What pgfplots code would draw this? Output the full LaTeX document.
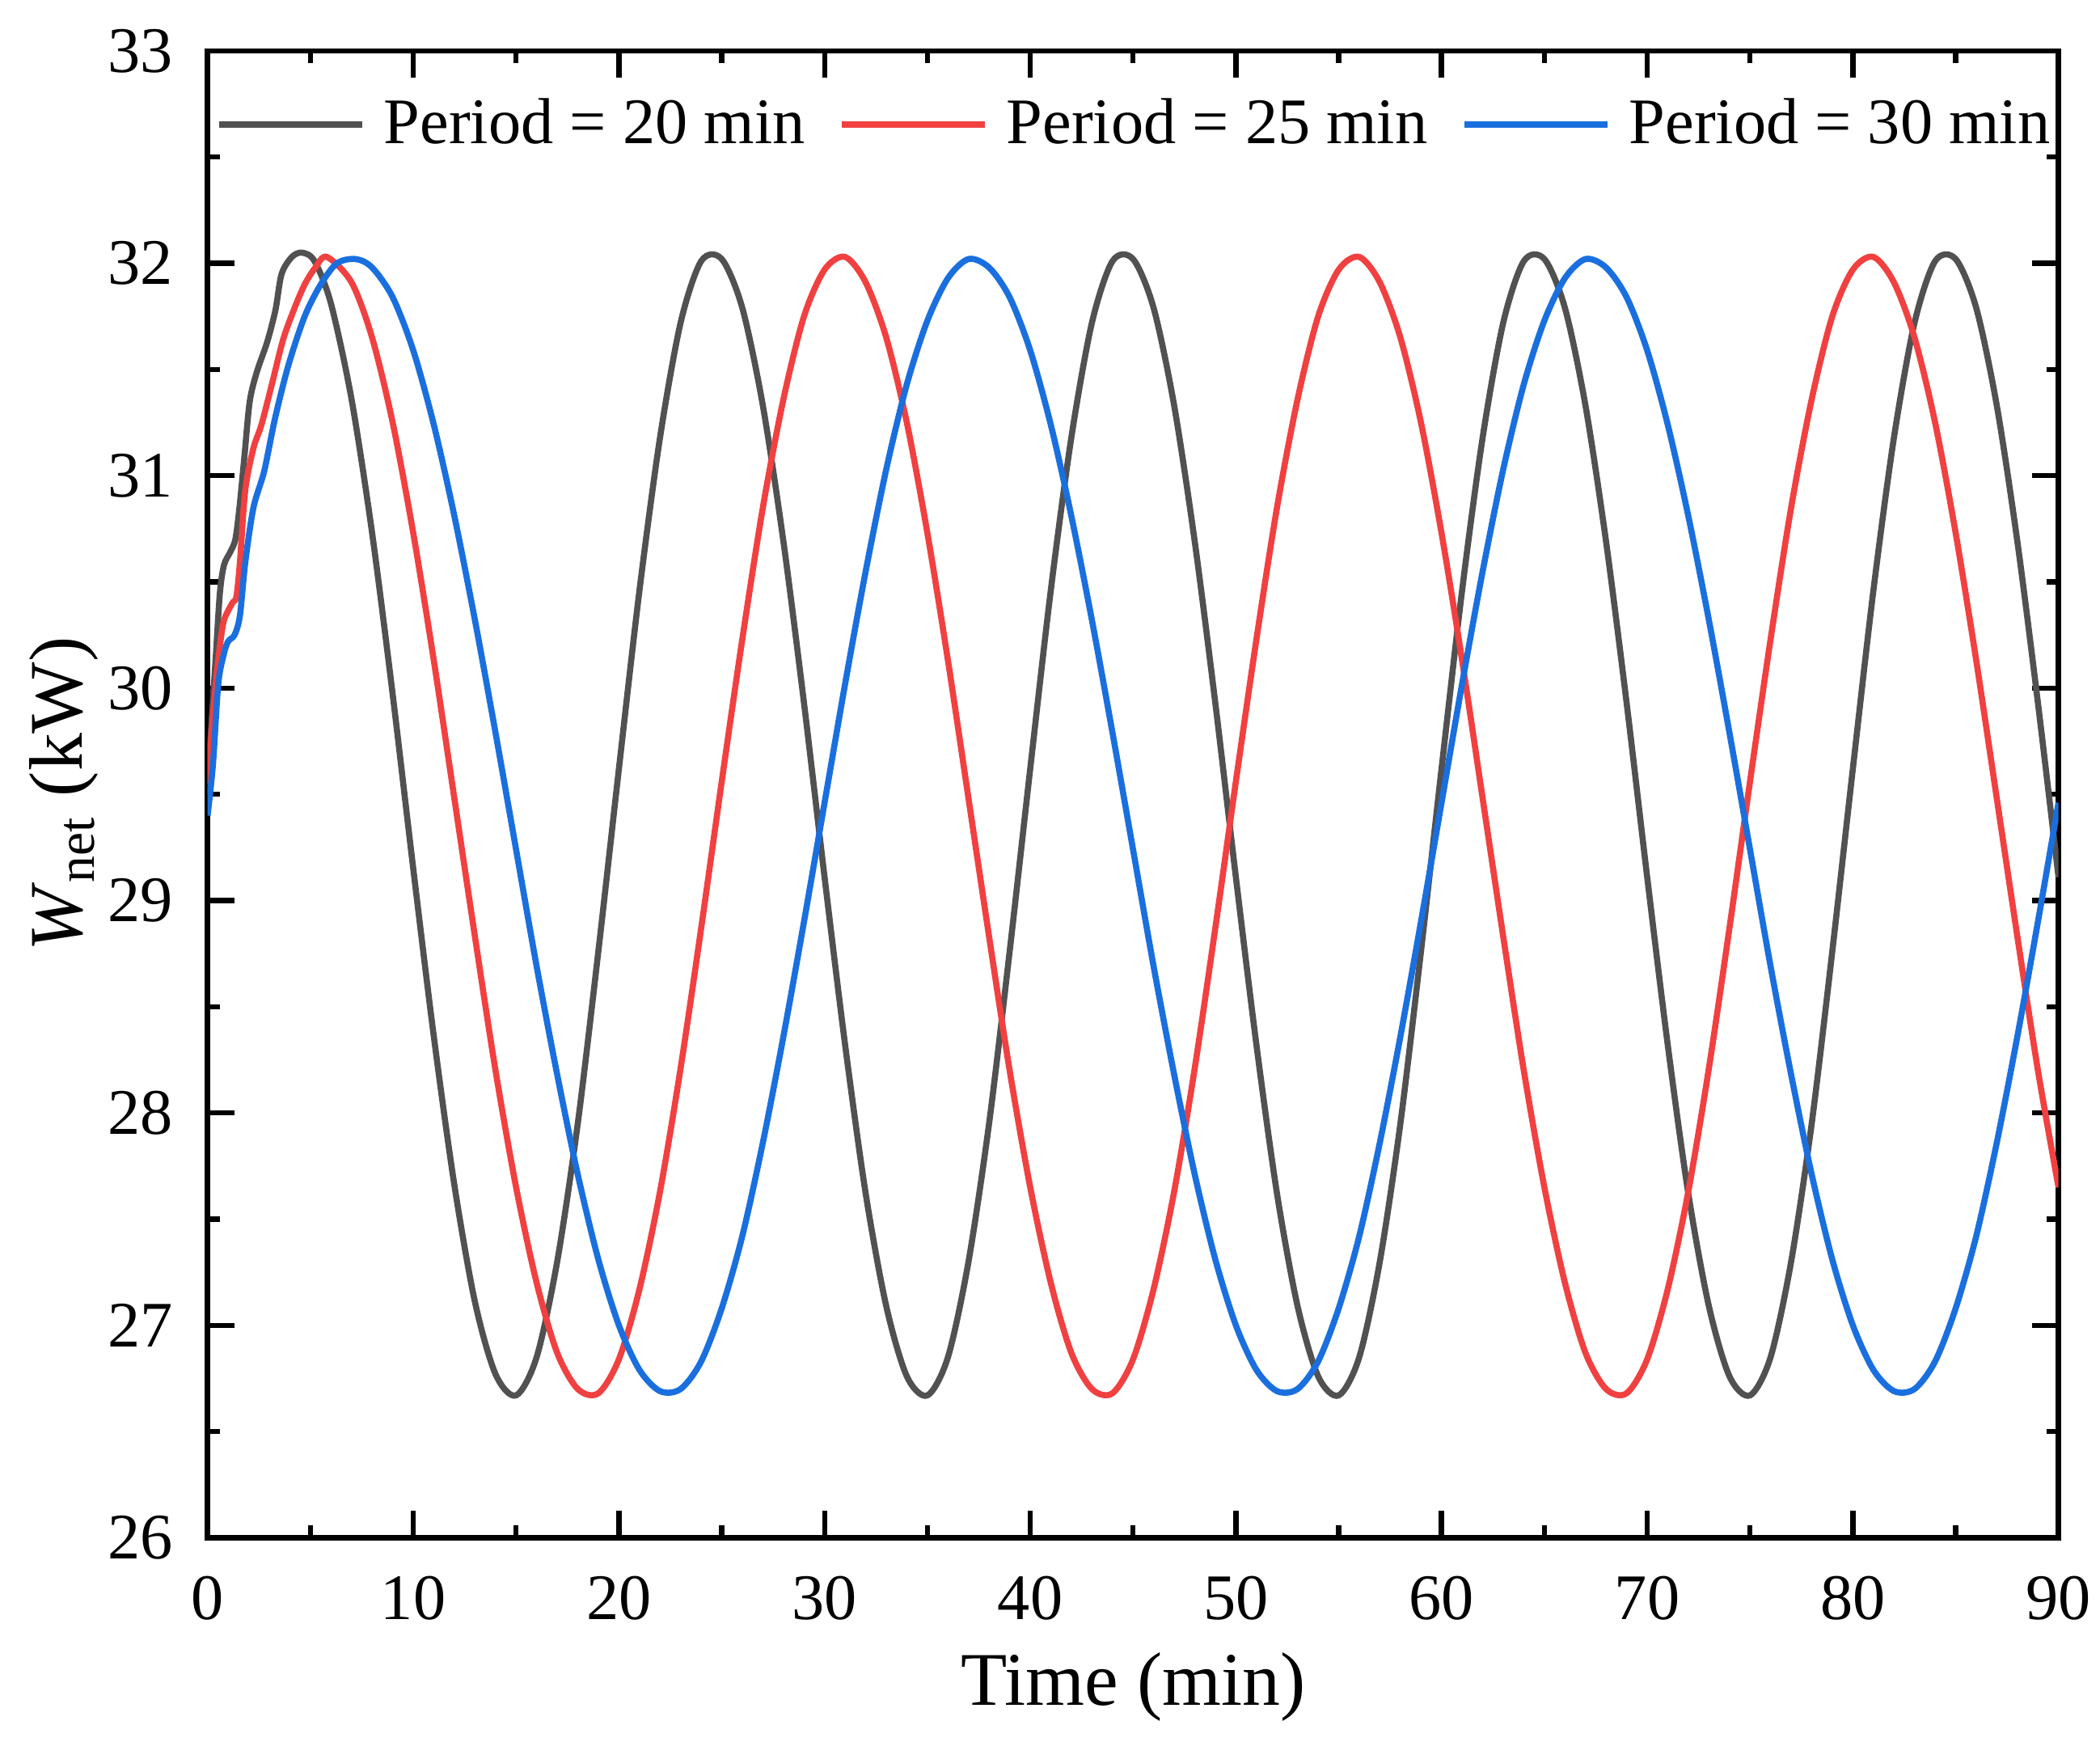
\documentclass[border=0pt]{standalone}
\usepackage{fontspec}
\setmainfont{Liberation Serif}
\usepackage{pgfplots}
\usepackage{pgfplotstable}
\pgfplotsset{compat=1.18}

\definecolor{oblack}{HTML}{515151}
\definecolor{ored}{HTML}{F14040}
\definecolor{oblue}{HTML}{1A6FDF}

% Period = 20 min
\pgfplotstableread{
t w
0 29.50
0.2 29.85
0.4 30.15
0.6 30.45
0.8 30.58
1.1 30.64
1.35 30.70
1.55 30.85
1.8 31.10
2.05 31.35
2.4 31.49
2.9 31.63
3.3 31.78
3.6 31.95
4.1 32.03
4.6 32.05
5.2 32.01
6 31.81
7 31.36
8 30.73
9 29.97
10 29.15
11 28.36
12 27.66
13 27.11
14 26.77
15 26.67
16 26.85
17 27.30
18 27.95
19 28.76
20 29.62
21 30.46
22 31.18
23 31.72
24 32.01
25 32.02
26 31.79
27 31.33
28 30.69
29 29.93
30 29.11
31 28.32
32 27.62
33 27.09
34 26.76
35 26.67
36 26.85
37 27.30
38 27.95
39 28.76
40 29.62
41 30.46
42 31.18
43 31.72
44 32.01
45 32.02
46 31.79
47 31.33
48 30.69
49 29.93
50 29.11
51 28.32
52 27.62
53 27.09
54 26.76
55 26.67
56 26.85
57 27.30
58 27.95
59 28.76
60 29.62
61 30.46
62 31.18
63 31.72
64 32.01
65 32.02
66 31.79
67 31.33
68 30.69
69 29.93
70 29.11
71 28.32
72 27.62
73 27.09
74 26.76
75 26.67
76 26.85
77 27.30
78 27.95
79 28.76
80 29.62
81 30.46
82 31.18
83 31.72
84 32.01
85 32.02
86 31.79
87 31.33
88 30.69
89 29.93
90 29.11
}\perA

% Period = 25 min
\pgfplotstableread{
t w
0 29.55
0.2 29.80
0.4 30.02
0.6 30.20
0.8 30.32
1.2 30.40
1.4 30.43
1.57 30.59
1.83 30.93
2.23 31.13
2.62 31.24
3.15 31.44
3.67 31.64
4.19 31.78
4.72 31.90
5.24 31.98
5.8 32.03
7 31.91
8 31.65
9 31.25
10 30.73
11 30.13
12 29.48
13 28.83
14 28.20
15 27.65
16 27.20
17 26.87
18 26.70
19 26.68
20 26.84
21 27.17
22 27.63
23 28.21
24 28.87
25 29.56
26 30.23
27 30.85
28 31.36
29 31.75
30 31.97
31 32.03
32 31.91
33 31.65
34 31.25
35 30.73
36 30.13
37 29.48
38 28.83
39 28.20
40 27.65
41 27.20
42 26.87
43 26.70
44 26.68
45 26.84
46 27.17
47 27.63
48 28.21
49 28.87
50 29.56
51 30.23
52 30.85
53 31.36
54 31.75
55 31.97
56 32.03
57 31.91
58 31.65
59 31.25
60 30.73
61 30.13
62 29.48
63 28.83
64 28.20
65 27.65
66 27.20
67 26.87
68 26.70
69 26.68
70 26.84
71 27.17
72 27.63
73 28.21
74 28.87
75 29.56
76 30.23
77 30.85
78 31.36
79 31.75
80 31.97
81 32.03
82 31.91
83 31.65
84 31.25
85 30.73
86 30.13
87 29.48
88 28.83
89 28.20
90 27.65
}\perB

% Period = 30 min
\pgfplotstableread{
t w
0 29.40
0.26 29.64
0.52 30.02
0.79 30.16
1.0 30.22
1.31 30.25
1.57 30.34
1.83 30.59
2.23 30.85
2.75 31.02
3.28 31.27
3.93 31.52
4.72 31.75
5.5 31.90
6.29 32.00
7.2 32.02
8 31.98
9 31.84
10 31.59
11 31.24
12 30.81
13 30.32
14 29.79
15 29.24
16 28.69
17 28.18
18 27.71
19 27.31
20 27.00
21 26.79
22 26.69
23 26.70
24 26.83
25 27.08
26 27.42
27 27.86
28 28.36
29 28.90
30 29.46
31 30.02
32 30.55
33 31.03
34 31.43
35 31.73
36 31.93
37 32.02
38 31.98
39 31.84
40 31.59
41 31.24
42 30.81
43 30.32
44 29.79
45 29.24
46 28.69
47 28.18
48 27.71
49 27.31
50 27.00
51 26.79
52 26.69
53 26.70
54 26.83
55 27.08
56 27.42
57 27.86
58 28.36
59 28.90
60 29.46
61 30.02
62 30.55
63 31.03
64 31.43
65 31.73
66 31.93
67 32.02
68 31.98
69 31.84
70 31.59
71 31.24
72 30.81
73 30.32
74 29.79
75 29.24
76 28.69
77 28.18
78 27.71
79 27.31
80 27.00
81 26.79
82 26.69
83 26.70
84 26.83
85 27.08
86 27.42
87 27.86
88 28.36
89 28.90
90 29.46
}\perC

\begin{document}
\begin{tikzpicture}
\begin{axis}[
    scale only axis,
    width=138.2mm, height=111mm,
    xmin=0, xmax=90, ymin=26, ymax=33,
    xtick={0,10,...,90}, ytick={26,27,...,33},
    minor x tick num=1, minor y tick num=1,
    tick align=inside,
    major tick length=2mm, minor tick length=0.9mm,
    axis line style={line width=1.15pt},
    tick style={black, line width=1.1pt},
    /pgf/number format/assume math mode=true,
    ticklabel style={font=\fontsize{13.8}{16}\selectfont},
    yticklabel style={inner sep=0pt, xshift=-2.5mm},
    xticklabel style={inner sep=0pt, yshift=-2.8mm},
    xlabel={Time (min)},
    ylabel={\textit{W}\textsubscript{net} (kW)},
    label style={font=\fontsize{16.1}{19}\selectfont},
    xlabel style={at={([yshift=-12.5mm]axis description cs:0.5,0)}, anchor=base},
    ylabel style={at={([xshift=-9.35mm]axis description cs:0,0.5)}, anchor=base},
    legend columns=3,
    legend image code/.code={\draw[#1] (0mm,0mm) -- (10.7mm,0mm);},
    legend style={draw=none, fill=none, at={(0.5,0.9505)}, anchor=center,
        font=\fontsize{13.8}{16}\selectfont,
        nodes={inner sep=0pt},
        /tikz/every odd column/.append style={column sep=1.4mm},
        /tikz/every even column/.append style={column sep=2.5mm}},
]
\coordinate (sw) at (rel axis cs:0,0);
\coordinate (ne) at (rel axis cs:1,1);
\addplot[oblack, line width=1.3pt, smooth] table[x=t, y=w] {\perA};
\addplot[ored, line width=1.3pt, smooth] table[x=t, y=w] {\perB};
\addplot[oblue, line width=1.3pt, smooth] table[x=t, y=w] {\perC};
\legend{Period = 20 min, Period = 25 min, Period = 30 min}
\end{axis}
\pgfresetboundingbox
\path[use as bounding box] (sw) ++(-15.5mm,-15.2mm) rectangle ([xshift=3.1mm,yshift=3.8mm]ne);
\end{tikzpicture}
\end{document}
